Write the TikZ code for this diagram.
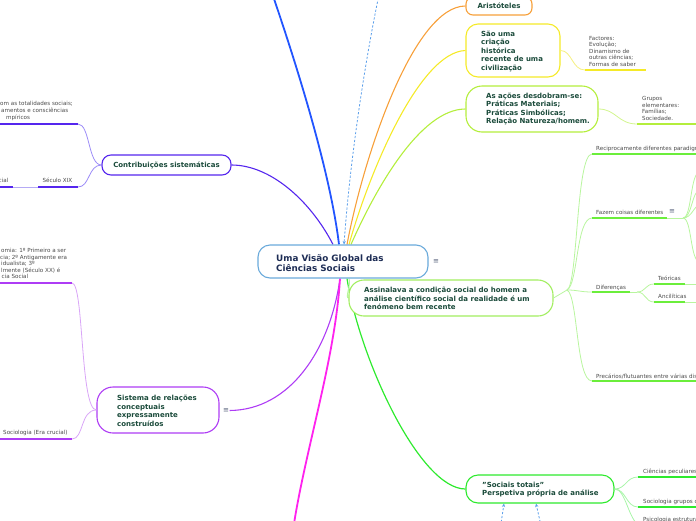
\documentclass[tikz,border=0pt]{standalone}
\usepackage{fontspec}
\setmainfont{DejaVu Sans}
\usetikzlibrary{arrows.meta,backgrounds}
\definecolor{rootborder}{HTML}{6AAADB}
\definecolor{roottext}{HTML}{1E2D55}
\definecolor{nodetext}{HTML}{1B4B3B}
\definecolor{lblgray}{HTML}{4A4A4A}
\definecolor{menugray}{HTML}{55607A}
\definecolor{cblue}{HTML}{2255FF}
\definecolor{cdash}{HTML}{5A9EEA}
\definecolor{corange}{HTML}{F7A03A}
\definecolor{cyellow}{HTML}{F5EA28}
\definecolor{cyg}{HTML}{B4EE3C}
\definecolor{cpurple}{HTML}{5526EE}
\definecolor{cviolet}{HTML}{AE3CF5}
\definecolor{cmagenta}{HTML}{FF22EE}
\definecolor{cgreen}{HTML}{2EEA2E}
\definecolor{clgreen}{HTML}{A2EE60}
\definecolor{culgreen}{HTML}{6BEE3B}
\definecolor{lpurple}{HTML}{9C8CF7}
\definecolor{lpurple2}{HTML}{B5AAF5}
\definecolor{lviolet}{HTML}{D9A5F7}
\definecolor{lyellow}{HTML}{F5EF80}
\definecolor{lyg}{HTML}{D2F58E}
\definecolor{llgreen}{HTML}{B8F59E}
\definecolor{lgreen}{HTML}{A8F5A8}
\newcommand{\mmNode}{\bfseries\fontsize{7}{8.5}\selectfont}
\newcommand{\mmRoot}{\bfseries\fontsize{8.8}{10.7}\selectfont}
\newcommand{\mmLbl}{\fontsize{5.6}{6.6}\selectfont}
\newcommand{\mmMenu}{\fontsize{7}{8}\selectfont}
\begin{document}
\begin{tikzpicture}[x=1pt,y=-1pt,
  box/.style={draw, fill=white, line width=1.1pt, inner sep=0pt},
  ntext/.style={font=\mmNode, text=nodetext, align=left, inner sep=0pt, anchor=west},
  lbl/.style={font=\mmLbl, text=lblgray, inner sep=0pt, anchor=base west},
  mlbl/.style={font=\mmLbl, text=lblgray, inner sep=0pt, anchor=west, align=left},
  menu/.style={font=\mmMenu, text=menugray, inner sep=0.5pt},
  ul/.style={line width=1.8pt},
  ulight/.style={line width=1pt},
  sub/.style={line width=0.8pt},
  rel/.style={draw=cdash, line width=0.8pt, dash pattern=on 2.2pt off 1.8pt},
  reltip/.style={-{Stealth[length=3.5pt,width=3.2pt]}}
]
\useasboundingbox (0,0) rectangle (696,520);
\clip (0,0) rectangle (696,520);

% ---------- main nodes ----------
\node[box, draw=rootborder, rounded corners=12pt, minimum width=170pt, minimum height=33pt] (root) at (343,261.5) {};
\node[ntext, font=\mmRoot, text=roottext] (roottxt) at (276,263) {Uma Visão Global das\\Ciências Sociais};
\node[menu] (rootmenu) at (436,262) {≡};

\node[box, draw=corange, rounded corners=7pt, minimum width=66pt, minimum height=18pt, font=\mmNode, text=nodetext] (arist) at (499,6) {Aristóteles};

\node[box, draw=cyellow, rounded corners=12pt, minimum width=94pt, minimum height=53pt] (sao) at (513,50.5) {};
\node[ntext] (saotxt) at (481,51.3) {São uma\\criação\\histórica\\recente de uma\\civilização};

\node[box, draw=cyg, rounded corners=16pt, minimum width=132pt, minimum height=46pt] (acoes) at (532,109) {};
\node[ntext] (acoestxt) at (486,108.9) {As ações desdobram-se:\\Práticas Materiais;\\Práticas Simbólicas;\\Relação Natureza/homem.};

\node[box, draw=clgreen, rounded corners=15pt, minimum width=204pt, minimum height=36pt] (assin) at (451,298) {};
\node[ntext] (assintxt) at (364,298.8) {Assinalava a condição social do homem a\\análise científico social da realidade é um\\fenómeno bem recente};

\node[box, draw=cpurple, rounded corners=9pt, minimum width=129pt, minimum height=20pt, font=\mmNode, text=nodetext] (contrib) at (166.5,165) {Contribuições sistemáticas};

\node[box, draw=cviolet, rounded corners=16pt, minimum width=122pt, minimum height=46pt] (sistema) at (158,410) {};
\node[ntext] (sistematxt) at (117,410.8) {Sistema de relações\\conceptuais\\expressamente\\construídos};
\node[menu] (sismenu) at (226,410.5) {≡};

\node[box, draw=cgreen, rounded corners=12pt, minimum width=148pt, minimum height=28pt] (socials) at (540,489) {};
\node[ntext] (socialstxt) at (482,489.6) {"Sociais totais"\\Perspetiva própria de análise};

% ---------- free ends ----------
\coordinate (blueEnd) at (271,-10);
\coordinate (dashTop) at (380,-10);
\coordinate (magEnd) at (293,530);
\coordinate (rel1) at (500,530);
\coordinate (rel2) at (542,530);
\coordinate (ahub) at (567,290);

% ---------- main connectors (behind nodes) ----------
\begin{scope}[on background layer]
\clip (0,0) rectangle (696,520);
\draw[cblue, line width=1.8pt] ([xshift=-4pt]root.north) .. controls (330,170) and (295,60) .. (blueEnd);
\draw[corange, line width=1.1pt] ([xshift=4pt]root.north) .. controls (365,150) and (415,6) .. (arist.west);
\draw[cyellow, line width=1.1pt] ([xshift=6pt]root.north) .. controls (370,170) and (420,52) .. (sao.west);
\draw[cyg, line width=1.1pt] ([xshift=8pt]root.north) .. controls (375,190) and (420,109) .. (acoes.west);
\draw[cpurple, line width=1.1pt] ([xshift=-10pt]root.north) .. controls (310,200) and (270,165) .. (contrib.east);
\draw[cviolet, line width=1.1pt] ([xshift=-3pt]root.south) .. controls (330,350) and (290,410) .. (sismenu.east);
\draw[cmagenta, line width=1.8pt] ([xshift=-3pt]root.south) .. controls (335,360) and (305,450) .. (magEnd);
\draw[cgreen, line width=1.2pt] ([xshift=4pt]root.south) .. controls (360,360) and (420,489) .. (socials.west);
\draw[llgreen, line width=1pt] ([xshift=6pt]root.south) .. controls (351,285) and (345,298) .. (assin.west);
\end{scope}

% ---------- relations (dashed) ----------
\draw[rel, reltip] (dashTop) .. controls (365,60) and (350,160) .. ([xshift=1pt]root.north);
\draw[rel, reltip] (rel1) -- ([xshift=-36pt]socials.south);
\draw[rel, reltip] (rel2) -- ([xshift=-4pt]socials.south);

% ---------- Contribuicoes children ----------
\coordinate (c1L) at (-5,124); \coordinate (c1R) at (78,124);
\coordinate (c2L) at (38,187); \coordinate (c2R) at (78,187);
\coordinate (c3L) at (-5,187); \coordinate (c3R) at (13,187);
\draw[sub, lpurple] (contrib.west) .. controls (88,165) and (90,124) .. (c1R);
\draw[sub, lpurple] (contrib.west) .. controls (88,165) and (90,187) .. (c2R);
\draw[ul, cpurple] (c1L) -- (c1R);
\draw[ul, cpurple] (c2L) -- (c2R);
\draw[ulight, lpurple2] (c3R) -- (c2L);
\draw[ul, cpurple] (c3L) -- (c3R);
\node[mlbl] (c1txt) at (0,110.9) {om as totalidades sociais;\\\hspace*{1pt}amentos e consciências\\\hspace*{6pt}mpíricos};
\node[lbl] (seculo) at (42.3,182.3) {Século XIX};
\node[lbl, anchor=base east] (cial) at (8.5,182.3) {cial};

% ---------- Sistema children ----------
\coordinate (s1L) at (-5,283); \coordinate (s1R) at (72,283);
\coordinate (s2L) at (-5,439); \coordinate (s2R) at (72,439);
\draw[sub, lviolet] (sistema.west) .. controls (80,410) and (84,283) .. (s1R);
\draw[sub, lviolet] (sistema.west) .. controls (80,410) and (84,439) .. (s2R);
\draw[ul, cviolet] (s1L) -- (s1R);
\draw[ul, cviolet] (s2L) -- (s2R);
\node[mlbl] (s1txt) at (0,263.6) {\hspace*{1pt}omia: 1º Primeiro a ser\\cia; 2º Antigamente era\\\hspace*{1pt}idualista; 3º\\\hspace*{1pt}lmente (Século XX) é\\\hspace*{1.5pt}cia Social};
\node[lbl] (s2txt) at (3,434) {Sociologia (Era crucial)};

% ---------- Sao uma child ----------
\coordinate (yL) at (585,70); \coordinate (yR) at (646,70);
\draw[sub, lyellow] (sao.east) .. controls (572,50.5) and (572,70) .. (yL);
\draw[ul, cyellow] (yL) -- (yR);
\node[mlbl] (factores) at (589,51.2) {Factores:\\Evolução;\\Dinamismo de\\outras ciências;\\Formas de saber};

% ---------- As acoes child ----------
\coordinate (gL) at (637,124); \coordinate (gR) at (700,124);
\draw[sub, lyg] (acoes.east) .. controls (616,109) and (618,124) .. (gL);
\draw[ul, cyg] (gL) -- (gR);
\node[mlbl] (grupos) at (642,108.3) {Grupos\\elementares:\\Famílias;\\Sociedade.};

% ---------- Assinalava children ----------
\coordinate (rL) at (592,154); \coordinate (rR) at (700,154);
\coordinate (fL) at (592,218); \coordinate (fM) at (667,218); \coordinate (fR) at (683,218);
\coordinate (dL) at (592,292); \coordinate (dM) at (630,292); \coordinate (dR) at (637,292);
\coordinate (tL) at (654,284); \coordinate (tM) at (685,284); \coordinate (tR) at (700,284);
\coordinate (aL) at (654,302); \coordinate (aM) at (685,302); \coordinate (aR) at (700,302);
\coordinate (pL) at (592,381); \coordinate (pR) at (700,381);
\coordinate (f1) at (700,172); \coordinate (f2) at (700,190);
\coordinate (f3) at (700,205); \coordinate (f4) at (700,262);
\draw[sub, llgreen] (assin.east) -- (ahub);
\draw[sub, llgreen] (ahub) .. controls (578,285) and (576,154) .. (rL);
\draw[sub, llgreen] (ahub) .. controls (578,285) and (576,218) .. (fL);
\draw[sub, llgreen] (ahub) .. controls (578,290) and (580,292) .. (dL);
\draw[sub, llgreen] (ahub) .. controls (578,295) and (576,381) .. (pL);
\draw[sub, llgreen] (fR) .. controls (692,218) and (690,172) .. (f1);
\draw[sub, llgreen] (fR) .. controls (692,218) and (692,190) .. (f2);
\draw[sub, llgreen] (fR) .. controls (692,218) and (694,205) .. (f3);
\draw[sub, llgreen] (fR) .. controls (692,218) and (690,262) .. (f4);
\draw[sub, llgreen] (dR) .. controls (646,292) and (645,284) .. (tL);
\draw[sub, llgreen] (dR) .. controls (646,292) and (645,302) .. (aL);
\draw[ul, culgreen] (rL) -- (rR);
\draw[ul, culgreen] (fL) -- (fM);
\draw[ulight, llgreen] (fM) -- (fR);
\draw[ul, culgreen] (dL) -- (dM);
\draw[ulight, llgreen] (dM) -- (dR);
\draw[ul, culgreen] (tL) -- (tM);
\draw[ulight, llgreen] (tM) -- (tR);
\draw[ul, culgreen] (aL) -- (aM);
\draw[ulight, llgreen] (aM) -- (aR);
\draw[ul, culgreen] (pL) -- (pR);
\node[lbl] (recip) at (596,150.3) {Reciprocamente diferentes paradigm};
\node[lbl] (fazem) at (596,214) {Fazem coisas diferentes};
\node[menu] (fazmenu) at (672,212) {≡};
\node[lbl] (difer) at (596,289) {Diferenças};
\node[lbl] (teor) at (658,280) {Teóricas};
\node[lbl] (ancil) at (658,298) {Ancilíticas};
\node[lbl] (prec) at (596,378) {Precários/flutuantes entre várias dis};

% ---------- Socials children ----------
\coordinate (k1L) at (638,477); \coordinate (k1R) at (700,477);
\coordinate (k2L) at (638,507); \coordinate (k2R) at (700,507);
\coordinate (k3L) at (640,526);
\draw[sub, lgreen] (socials.east) .. controls (626,489) and (626,477) .. (k1L);
\draw[sub, lgreen] (socials.east) .. controls (626,489) and (626,507) .. (k2L);
\draw[sub, lgreen] (socials.east) .. controls (626,489) and (628,520) .. (k3L);
\draw[ul, cgreen] (k1L) -- (k1R);
\draw[ul, cgreen] (k2L) -- (k2R);
\node[lbl] (cien) at (643,473.3) {Ciências peculiares};
\node[lbl] (socio) at (643,503.3) {Sociologia grupos c};
\node[lbl] (psico) at (643,521) {Psicologia estrutura};
\end{tikzpicture}
\end{document}
